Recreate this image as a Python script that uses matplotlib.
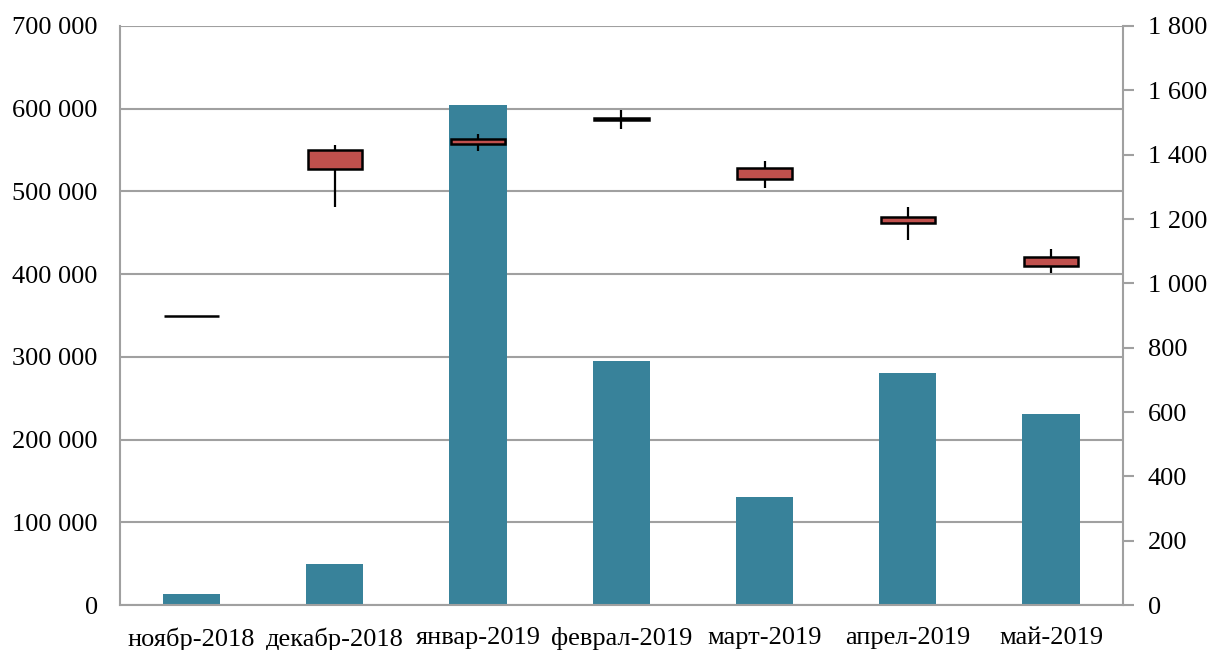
import matplotlib.pyplot as plt
import matplotlib.ticker as mticker
import numpy as np

plt.rcParams['font.family'] = ['Liberation Serif', 'DejaVu Serif']

months = ["ноябр-2018", "декабр-2018", "январ-2019", "феврал-2019",
          "март-2019", "апрел-2019", "май-2019"]
volume = [13600, 49500, 604500, 294600, 130600, 280100, 230900]

# candles (right axis)
open_ = [900, 1415, 1449, 1513, 1359, 1207, 1082]
close = [900, 1355, 1434, 1509, 1324, 1189, 1054]
high = [900, 1430, 1464, 1539, 1381, 1237, 1107]
low = [900, 1238, 1411, 1481, 1297, 1134, 1031]

BAR = "#38829a"
RED = "#c0504d"
GRID = "#a0a0a0"


def spaced(v, pos):
    return f"{int(round(v)):,}".replace(",", " ")


fig = plt.figure(figsize=(12.08, 6.5), dpi=100)
ax = fig.add_axes([0.0993, 0.0692, 0.8301, 0.8908])
ax2 = ax.twinx()

x = np.arange(len(months))
ax.bar(x, volume, width=0.4, color=BAR, zorder=2)
ax.set_xlim(-0.5, len(months) - 0.5)
ax.set_ylim(0, 700000)
ax.yaxis.set_major_locator(mticker.MultipleLocator(100000))
ax.yaxis.set_major_formatter(mticker.FuncFormatter(spaced))
ax.grid(axis="y", color=GRID, lw=1.5, zorder=0)
ax.set_axisbelow(True)
ax.set_xticks(x)
ax.set_xticklabels(months)
ax.tick_params(axis="both", labelsize=19, length=0)
ax.tick_params(axis="x", pad=16)
ax.tick_params(axis="y", pad=16)

lo = np.minimum(open_, close)
hi = np.maximum(open_, close)
ax2.vlines(x, low, high, color="black", lw=1.6, zorder=2)
ax2.bar(x, hi - lo, bottom=lo, width=0.38, color=RED,
        edgecolor="black", lw=1.8, zorder=3)
ax2.set_ylim(0, 1800)
ax2.yaxis.set_major_locator(mticker.MultipleLocator(200))
ax2.yaxis.set_major_formatter(mticker.FuncFormatter(spaced))
ax2.tick_params(axis="y", labelsize=19, length=8, width=1.5, color=GRID, pad=10)

for a in (ax, ax2):
    for s in a.spines.values():
        s.set_color(GRID)
        s.set_linewidth(1.5)
    a.spines["top"].set_visible(False)
ax.spines["right"].set_visible(False)
ax2.spines["left"].set_visible(False)
ax2.spines["bottom"].set_visible(False)

fig.savefig("out.png", dpi=100)
